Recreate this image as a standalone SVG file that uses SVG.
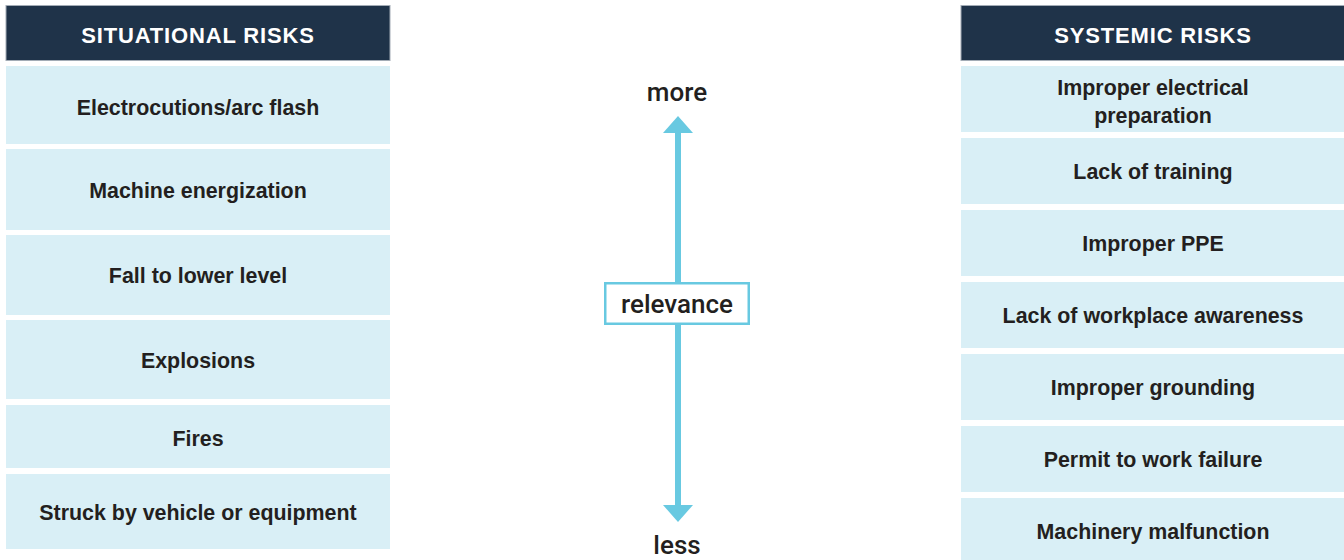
<svg xmlns="http://www.w3.org/2000/svg" width="1344" height="560" viewBox="0 0 1344 560">
  <style>
    .hdr { fill: #1f3349; stroke: #a3acb6; stroke-width: 1; }
    .hdrtxt { font-family: "Liberation Sans", Arial, sans-serif; font-weight: bold; font-size: 22px; fill: #ffffff; text-anchor: middle; letter-spacing: 0.85px; }
    .box { fill: #d9eff6; }
    .txt { font-family: "Liberation Sans", Arial, sans-serif; font-weight: bold; font-size: 21.4px; fill: #231f20; text-anchor: middle; }
    .axis { font-family: Roboto, "Liberation Sans", sans-serif; font-weight: 500; font-size: 26px; fill: #231f20; text-anchor: middle; }
    .shaft { stroke: #68c9e1; stroke-width: 6; fill: none; }
  </style>
  <defs>
    <marker id="head" markerUnits="userSpaceOnUse" markerWidth="17" markerHeight="30" refX="0" refY="15" orient="auto" viewBox="0 0 17 30">
      <path d="M0,0 L17,15 L0,30 Z" fill="#68c9e1"/>
    </marker>
  </defs>
  <rect width="1344" height="560" fill="#ffffff"/>

  <!-- Left column -->
  <g id="situational-header">
    <rect class="hdr" x="6" y="5.5" width="384" height="55"/>
    <text class="hdrtxt" x="198" y="43">SITUATIONAL RISKS</text>
  </g>
  <g id="s1"><rect class="box" x="6" y="66" width="384" height="78"/><text class="txt" x="198" y="115">Electrocutions/arc flash</text></g>
  <g id="s2"><rect class="box" x="6" y="149" width="384" height="81"/><text class="txt" x="198" y="198">Machine energization</text></g>
  <g id="s3"><rect class="box" x="6" y="235" width="384" height="80"/><text class="txt" x="198" y="283">Fall to lower level</text></g>
  <g id="s4"><rect class="box" x="6" y="320" width="384" height="79"/><text class="txt" x="198" y="368">Explosions</text></g>
  <g id="s5"><rect class="box" x="6" y="405" width="384" height="63"/><text class="txt" x="198" y="446">Fires</text></g>
  <g id="s6"><rect class="box" x="6" y="474" width="384" height="75"/><text class="txt" x="198" y="520">Struck by vehicle or equipment</text></g>

  <!-- Right column -->
  <g id="systemic-header">
    <rect class="hdr" x="961" y="5.5" width="390" height="55"/>
    <text class="hdrtxt" x="1153" y="43">SYSTEMIC RISKS</text>
  </g>
  <g id="r1"><rect class="box" x="961" y="66" width="383" height="66"/><text class="txt" x="1153" y="95">Improper electrical</text><text class="txt" x="1153" y="123">preparation</text></g>
  <g id="r2"><rect class="box" x="961" y="138" width="383" height="66"/><text class="txt" x="1153" y="179">Lack of training</text></g>
  <g id="r3"><rect class="box" x="961" y="210" width="383" height="66"/><text class="txt" x="1153" y="251">Improper PPE</text></g>
  <g id="r4"><rect class="box" x="961" y="282" width="383" height="66"/><text class="txt" x="1153" y="323">Lack of workplace awareness</text></g>
  <g id="r5"><rect class="box" x="961" y="354" width="383" height="66"/><text class="txt" x="1153" y="395">Improper grounding</text></g>
  <g id="r6"><rect class="box" x="961" y="426" width="383" height="66"/><text class="txt" x="1153" y="467">Permit to work failure</text></g>
  <g id="r7"><rect class="box" x="961" y="498" width="383" height="66"/><text class="txt" x="1153" y="539">Machinery malfunction</text></g>

  <!-- Connectors -->
  <g id="connectors">
    <line class="shaft" x1="678" y1="300" x2="678" y2="133" marker-end="url(#head)"/>
    <line class="shaft" x1="678" y1="300" x2="678" y2="505" marker-end="url(#head)"/>
  </g>

  <g id="more"><text class="axis" x="677" y="101">more</text></g>
  <g id="relevance">
    <rect x="605.25" y="283.25" width="143.5" height="40.5" fill="#ffffff" stroke="#68c9e1" stroke-width="2.5"/>
    <text class="axis" x="677" y="313">relevance</text>
  </g>
  <g id="less"><text class="axis" x="677" y="554">less</text></g>
</svg>
